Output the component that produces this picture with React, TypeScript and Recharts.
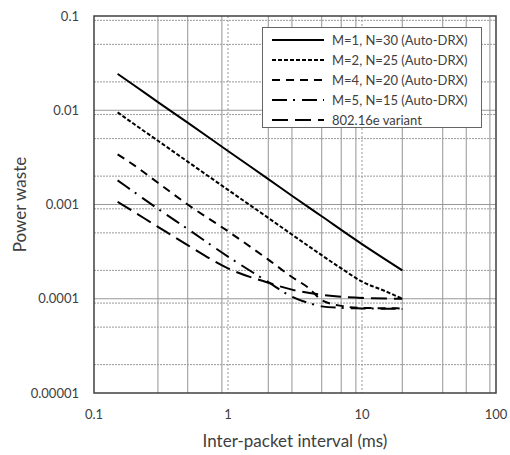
import { LineChart, Line, XAxis, YAxis, CartesianGrid, Legend, ReferenceArea, Label } from 'recharts'

const xTicks = [0.1, 1, 10, 100]
const xTickLabels = ['0.1', '1', '10', '100']
const yTicks = [0.00001, 0.0001, 0.001, 0.01, 0.1]
const yTickLabels = ['0.00001', '0.0001', '0.001', '0.01', '0.1']

const xMinor = [0.2, 0.3, 0.4, 0.5, 0.6, 0.7, 0.8, 0.9, 2, 3, 4, 5, 6, 7, 8, 9, 20, 30, 40, 50, 60, 70, 80, 90]
const xMajor = [1, 10]
const yMinor = [
  0.00002, 0.00003, 0.00004, 0.00005, 0.00006, 0.00007, 0.00008, 0.00009,
  0.0002, 0.0003, 0.0004, 0.0005, 0.0006, 0.0007, 0.0008, 0.0009,
  0.002, 0.003, 0.004, 0.005, 0.006, 0.007, 0.008, 0.009,
  0.02, 0.03, 0.04, 0.05, 0.06, 0.07, 0.08, 0.09,
]
const yMajor = [0.0001, 0.001, 0.01]

// M=1, N=30
const s1X = [0.15, 0.2, 0.3, 0.5, 1, 2, 3, 5, 10, 20]
const s1Y = [0.0243, 0.0183, 0.0122, 0.0074, 0.0037, 0.00186, 0.00124, 0.00075, 0.00038, 0.0002]
// M=2, N=25
const s2X = [0.15, 0.2, 0.3, 0.5, 1, 2, 3, 5, 7, 10, 15, 20]
const s2Y = [0.0095, 0.0071, 0.00475, 0.00285, 0.00143, 0.00072, 0.00048, 0.00029, 0.00021, 0.000152, 0.00012, 0.0001]
// M=4, N=20
const s3X = [0.15, 0.2, 0.3, 0.5, 1, 2, 3, 4, 5, 7, 10, 20]
const s3Y = [0.0034, 0.0026, 0.0017, 0.001, 0.00052, 0.00026, 0.00017, 0.00013, 0.000097, 0.000084, 0.00008, 0.000079]
// M=5, N=15
const s4X = [0.15, 0.2, 0.3, 0.5, 1, 2, 3, 4, 5, 7, 10, 20]
const s4Y = [0.0018, 0.00135, 0.0009, 0.00055, 0.00028, 0.00015, 0.000105, 0.00009, 0.000083, 0.00008, 0.000079, 0.000078]
// 802.16e variant
const s5X = [0.15, 0.2, 0.3, 0.5, 1, 2, 3, 5, 10, 20]
const s5Y = [0.00107, 0.00083, 0.00058, 0.00037, 0.00021, 0.000148, 0.000125, 0.00011, 0.000102, 0.0001]

const zip = (xs: number[], ys: number[]) => xs.map((x, i) => ({ x, y: ys[i] }))

const series = [
  { name: 'M=1, N=30 (Auto-DRX)', data: zip(s1X, s1Y), dash: undefined },
  { name: 'M=2, N=25 (Auto-DRX)', data: zip(s2X, s2Y), dash: '4 2' },
  { name: 'M=4, N=20 (Auto-DRX)', data: zip(s3X, s3Y), dash: '8 6' },
  { name: 'M=5, N=15 (Auto-DRX)', data: zip(s4X, s4Y), dash: '15 6 2 7' },
  { name: '802.16e variant', data: zip(s5X, s5Y), dash: '16 7' },
]

const font = 'Lato, "Open Sans", sans-serif'
const textColor = '#404040'

function LegendBox() {
  return (
    <svg width={220} height={101} style={{ display: 'block' }}>
      {series.map((s, i) => {
        const y = 12 + i * 20
        return (
          <g key={s.name}>
            <line x1={9} x2={61} y1={y} y2={y} stroke="#000" strokeWidth={2} strokeDasharray={s.dash} />
            <text x={69} y={y + 4.5} fontSize={13} fontFamily={font} fill={textColor}>
              {s.name}
            </text>
          </g>
        )
      })}
    </svg>
  )
}

export default function App() {
  return (
    <div style={{ position: 'absolute', left: 0, top: 0, background: '#fff' }}>
      <LineChart width={510} height={455} margin={{ top: 16, right: 14, bottom: 0, left: 0 }}>
        <CartesianGrid verticalValues={xMinor} horizontal={false} stroke="#a6a6a6" strokeWidth={1.2} />
        <CartesianGrid verticalValues={xMajor} horizontal={false} stroke="#999" strokeDasharray="2 2" />
        <CartesianGrid horizontalValues={yMinor} vertical={false} stroke="#999" strokeDasharray="2 1" />
        <CartesianGrid horizontalValues={yMajor} vertical={false} stroke="#999" />
        <XAxis
          type="number"
          dataKey="x"
          scale="log"
          domain={[0.1, 100]}
          allowDataOverflow
          ticks={xTicks}
          tickFormatter={(v: number) => xTickLabels[xTicks.indexOf(v)] ?? String(v)}
          height={62}
          tickLine={false}
          tickSize={0}
          tickMargin={17}
          axisLine={false}
          tick={{ fontSize: 13, fontFamily: font, fill: textColor }}
        >
          <Label
            value="Inter-packet interval (ms)"
            position="insideBottom"
            offset={8}
            style={{ fontSize: 17, fontFamily: font, fill: textColor }}
          />
        </XAxis>
        <YAxis
          type="number"
          dataKey="y"
          scale="log"
          domain={[0.00001, 0.1]}
          allowDataOverflow
          ticks={yTicks}
          tickFormatter={(v: number) => yTickLabels[yTicks.indexOf(v)] ?? String(v)}
          width={94}
          tickLine={false}
          tickSize={0}
          tickMargin={15}
          axisLine={false}
          tick={{ fontSize: 13, fontFamily: font, fill: textColor }}
        >
          <Label
            value="Power waste"
            angle={-90}
            position="insideLeft"
            offset={20}
            style={{ fontSize: 17, fontFamily: font, fill: textColor, textAnchor: 'middle' }}
          />
        </YAxis>
        <ReferenceArea x1={0.1} x2={100} y1={0.00001} y2={0.1} fill="none" stroke="#404040" strokeWidth={1.5} />
        {series.map((s) => (
          <Line
            key={s.name}
            data={s.data}
            dataKey="y"
            name={s.name}
            type="monotone"
            stroke="#000"
            strokeWidth={2}
            strokeDasharray={s.dash}
            dot={false}
            isAnimationActive={false}
          />
        ))}
        <Legend
          layout="vertical"
          align="center"
          verticalAlign="middle"
          content={() => <LegendBox />}
          wrapperStyle={{
            top: 27,
            left: 262,
            width: 220,
            height: 101,
            border: '1px solid #666',
            background: '#fff',
            boxSizing: 'border-box',
          }}
        />
      </LineChart>
    </div>
  )
}
